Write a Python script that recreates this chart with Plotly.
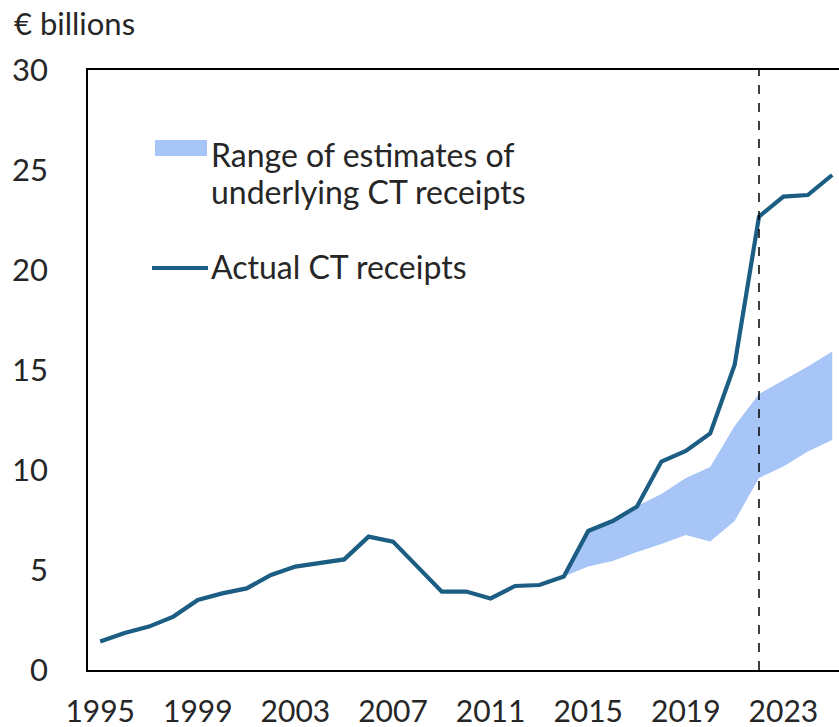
import plotly.graph_objects as go

# ---- data ----
years = list(range(1995, 2026))
actual_ct = [1.42, 1.85, 2.17, 2.67, 3.5, 3.83, 4.08, 4.75, 5.17, 5.33, 5.53,
             6.67, 6.42, 5.17, 3.92, 3.92, 3.58, 4.2, 4.25, 4.67, 6.95, 7.45,
             8.17, 10.42, 10.95, 11.83, 15.25, 22.67, 23.67, 23.75, 24.75]
band_years = list(range(2014, 2026))
band_lower = [4.67, 5.17, 5.45, 5.9, 6.3, 6.75, 6.42, 7.45, 9.6, 10.17, 10.92, 11.5]
band_upper = [4.67, 6.95, 7.45, 8.2, 8.8, 9.6, 10.15, 12.2, 13.8, 14.5, 15.17, 15.92]
tick_years = [1995, 1999, 2003, 2007, 2011, 2015, 2019, 2023]
forecast_year = 2022

LINE_COLOR = "#1C5D84"
BAND_COLOR = "#A7C5F6"
TEXT_COLOR = "#262626"
FONT = "Lato"

W, H = 839, 727
L, T, B, R = 88, 70, 57, 0
PW, PH = W - L - R, H - T - B

def px(x):
    return (x - L) / PW

def py(y):
    return (H - B - y) / PH

fig = go.Figure()
fig.add_trace(go.Scatter(x=band_years, y=band_lower, mode="lines",
                         line=dict(width=0, color=BAND_COLOR),
                         showlegend=False, hoverinfo="skip"))
fig.add_trace(go.Scatter(x=band_years, y=band_upper, mode="lines",
                         line=dict(width=0, color=BAND_COLOR),
                         fill="tonexty", fillcolor=BAND_COLOR,
                         showlegend=False))
fig.add_trace(go.Scatter(x=years, y=actual_ct, mode="lines",
                         line=dict(color=LINE_COLOR, width=4.2),
                         showlegend=False))

# forecast divider
fig.add_shape(type="line", xref="x", yref="y", x0=forecast_year, x1=forecast_year,
              y0=0, y1=30, line=dict(color="black", width=1.5, dash="dash"))

# custom legend
fig.add_shape(type="rect", xref="paper", yref="paper",
              x0=px(155), x1=px(207), y0=py(156), y1=py(140),
              fillcolor=BAND_COLOR, line=dict(width=0))
fig.add_shape(type="line", xref="paper", yref="paper",
              x0=px(152), x1=px(208), y0=py(268), y1=py(268),
              line=dict(color=LINE_COLOR, width=4.2))
for txt, yc in [("Range of estimates of", 154), ("underlying CT receipts", 191),
                ("Actual CT receipts", 266)]:
    fig.add_annotation(text=txt, xref="paper", yref="paper", x=px(209), y=py(yc),
                       xanchor="left", yanchor="middle", showarrow=False,
                       font=dict(family=FONT, size=32, color=TEXT_COLOR))

fig.add_annotation(text="€ billions", xref="paper", yref="paper",
                   x=px(12), y=py(23), xanchor="left", yanchor="middle",
                   showarrow=False, font=dict(family=FONT, size=31, color=TEXT_COLOR))

fig.update_layout(
    width=W, height=H,
    margin=dict(l=L, r=R, t=T, b=B, autoexpand=False),
    paper_bgcolor="white", plot_bgcolor="white",
    font=dict(family=FONT, size=31, color=TEXT_COLOR),
    xaxis=dict(range=[1994.5, 1994.5 + PW / 24.4], tickvals=tick_years,
               showgrid=False, zeroline=False, showline=True, mirror=True,
               linecolor="black", linewidth=1.5, ticks="", automargin=False,
               ticklabelstandoff=14, tickfont=dict(size=30)),
    yaxis=dict(range=[0, 30], dtick=5, showgrid=False, zeroline=False,
               showline=True, linecolor="black", linewidth=1.5, ticks="",
               automargin=False, ticklabelstandoff=32, tickfont=dict(size=31)),
    showlegend=False,
)

fig.write_html("out.html", config={"displayModeBar": False},
               post_script="document.body.style.margin='0';document.body.style.padding='0';")
